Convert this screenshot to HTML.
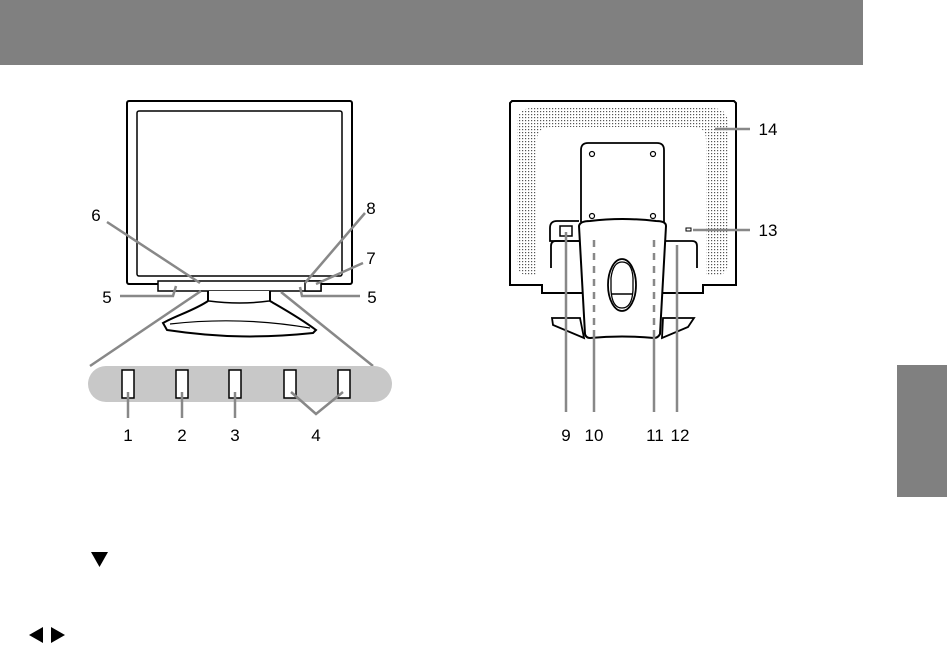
<!DOCTYPE html>
<html><head><meta charset="utf-8"><style>
html,body{margin:0;padding:0;background:#fff;}
svg{display:block}
text{font-family:"Liberation Sans",sans-serif;font-size:17px;fill:#000;text-anchor:middle}
</style></head><body>
<svg width="947" height="647" viewBox="0 0 947 647" xmlns="http://www.w3.org/2000/svg">
<defs>
<pattern id="dots" width="3" height="3" patternUnits="userSpaceOnUse"><rect x="0" y="0" width="1.2" height="1.2" fill="#555"/></pattern>
</defs>
<rect x="0" y="0" width="863" height="65" fill="#808080"/>
<rect x="897" y="365" width="50" height="132" fill="#808080"/>

<!-- FRONT -->
<rect x="127" y="101" width="225" height="183" rx="2" fill="#fff" stroke="#000" stroke-width="2"/>
<rect x="137" y="111" width="205" height="165" rx="2" fill="#fff" stroke="#000" stroke-width="1.5"/>
<rect x="158" y="281" width="163" height="10" fill="#fff" stroke="#000" stroke-width="1.5"/>
<rect x="305" y="281" width="16" height="10" fill="#fff" stroke="#000" stroke-width="1.5"/>
<path d="M208,291 L208,301 C195,310 175,316 163,323 L167,330 C220,338 265,338 313,333 L316,330 C300,318 282,308 270,301 L270,291" fill="#fff" stroke="#000" stroke-width="2"/>
<path d="M209,301 Q240,305 269,301" fill="none" stroke="#000" stroke-width="1.5"/>
<path d="M170,324 Q240,316 310,328" fill="none" stroke="#000" stroke-width="1.2"/>
<g stroke="#888" stroke-width="2.5" fill="none">
<line x1="90" y1="366" x2="201" y2="291"/>
<line x1="373" y1="366" x2="281" y2="292"/>
<line x1="107" y1="222" x2="200" y2="283"/>
<line x1="365" y1="213" x2="305" y2="283"/>
<line x1="363" y1="263" x2="316" y2="284"/>
<polyline points="120,296 173,296 176,286"/>
<polyline points="360,296 302,296 300,287"/>
</g>
<rect x="88" y="366" width="304" height="36" rx="18" fill="#c8c8c8"/>
<g fill="#fff" stroke="#000" stroke-width="1.5">
<rect x="122" y="370" width="12" height="28"/>
<rect x="176" y="370" width="12" height="28"/>
<rect x="229" y="370" width="12" height="28"/>
<rect x="284" y="370" width="12" height="28"/>
<rect x="338" y="370" width="12" height="28"/>
</g>
<g stroke="#888" stroke-width="2.5" fill="none">
<line x1="128" y1="392" x2="128" y2="418"/>
<line x1="182" y1="392" x2="182" y2="418"/>
<line x1="235" y1="392" x2="235" y2="418"/>
<polyline points="291,392 316,414 343,392"/>
</g>
<text x="96" y="221">6</text>
<text x="371" y="214">8</text>
<text x="371" y="264">7</text>
<text x="107" y="303">5</text>
<text x="372" y="303">5</text>
<text x="128" y="441">1</text>
<text x="182" y="441">2</text>
<text x="235" y="441">3</text>
<text x="316" y="441">4</text>

<!-- BACK -->
<path d="M512,101 L734,101 L736,103 L736,285 L703,285 L703,293 L542,293 L542,285 L510,285 L510,103 Z" fill="#fff" stroke="#000" stroke-width="2"/>
<path fill-rule="evenodd" fill="url(#dots)" d="M532,108 L712,108 Q728,108 728,124 L728,262 Q728,276 714,276 L706,276 L706,140 Q706,127 693,127 L551,127 Q537,127 537,140 L537,276 L531,276 Q517,276 517,262 L517,124 Q517,108 532,108 Z"/>
<path d="M581,222 L581,150 Q581,143 588,143 L657,143 Q664,143 664,150 L664,222" fill="#fff" stroke="#000" stroke-width="1.8"/>
<g fill="none" stroke="#000" stroke-width="1.2">
<circle cx="592" cy="154" r="2.5"/><circle cx="653" cy="154" r="2.5"/>
<circle cx="592" cy="216" r="2.5"/><circle cx="653" cy="216" r="2.5"/>
</g>
<!-- tabs -->
<path d="M579,241 L550,241 L550,228 Q550,221 557,221 L579,221" fill="#fff" stroke="#000" stroke-width="1.8"/>
<path d="M579,241 L556,241 Q551,241 551,246 L551,268" fill="none" stroke="#000" stroke-width="1.8"/>
<rect x="560" y="226" width="12" height="10" fill="#fff" stroke="#000" stroke-width="1.5"/>
<path d="M666,241 L692,241 Q697,241 697,246 L697,268" fill="none" stroke="#000" stroke-width="1.8"/>
<!-- feet -->
<path d="M580,318 L552,318 L553,325 L584,338 Z" fill="#fff" stroke="#000" stroke-width="1.8"/>
<path d="M663,318 L694,318 L688,327 L662,338 Z" fill="#fff" stroke="#000" stroke-width="1.8"/>
<!-- column -->
<path d="M579,226 Q580,221 590,221 Q622,217 656,221 Q666,221 666,226 L660,334 Q658,338 654,338 Q622,335 590,338 Q586,338 585,334 Z" fill="#fff" stroke="#000" stroke-width="2"/>
<ellipse cx="622" cy="285" rx="14" ry="26" fill="#fff" stroke="#000" stroke-width="1.8"/>
<path d="M611,278 Q613,262 622,262 Q632,262 633,278 L633,290 Q632,308 622,308 Q612,308 611,290 Z" fill="none" stroke="#000" stroke-width="1.3"/>
<line x1="611" y1="294" x2="633" y2="294" stroke="#000" stroke-width="1.5"/>
<rect x="686" y="228" width="5" height="3" fill="#fff" stroke="#000" stroke-width="1"/>
<g stroke="#888" stroke-width="2.5" fill="none">
<line x1="715" y1="129" x2="750" y2="129"/>
<line x1="693" y1="230" x2="750" y2="230"/>
<line x1="566" y1="232" x2="566" y2="412"/>
<line x1="594" y1="240" x2="594" y2="330" stroke-dasharray="7,6"/>
<line x1="594" y1="330" x2="594" y2="412"/>
<line x1="654" y1="240" x2="654" y2="330" stroke-dasharray="7,6"/>
<line x1="654" y1="330" x2="654" y2="412"/>
<line x1="677" y1="245" x2="677" y2="412"/>
</g>
<text x="768" y="135">14</text>
<text x="768" y="236">13</text>
<text x="566" y="441">9</text>
<text x="594" y="441">10</text>
<text x="655" y="441">11</text>
<text x="680" y="441">12</text>

<polygon points="91,552 108,552 99.5,567" fill="#000"/>
<polygon points="29,635 43,627 43,643" fill="#000"/>
<polygon points="51,627 65,635 51,643" fill="#000"/>
</svg>
</body></html>
